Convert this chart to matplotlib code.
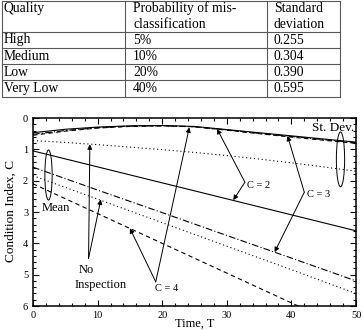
import numpy as np
import matplotlib
matplotlib.use('Agg')
from matplotlib import pyplot as plt
from matplotlib.patches import Ellipse

plt.rcParams['font.family'] = ['Liberation Serif', 'DejaVu Serif']

# table contents
header = [['Quality'], ['Probability of mis-', 'classification'], ['Standard', 'deviation']]
quality = ['High', 'Medium', 'Low', 'Very Low']
prob_mis = ['5%', '10%', '20%', '40%']
std_dev = ['0.255', '0.304', '0.390', '0.595']

# chart data
t_std = [0, 5, 10, 15, 20, 25, 30, 35, 40, 45, 50]
std_c2 = [0.47, 0.36, 0.29, 0.25, 0.24, 0.27, 0.37, 0.47, 0.57, 0.67, 0.77]
std_c3 = [0.52, 0.40, 0.31, 0.26, 0.25, 0.28, 0.38, 0.49, 0.59, 0.69, 0.79]
std_c4 = [0.55, 0.42, 0.32, 0.27, 0.25, 0.28, 0.39, 0.50, 0.61, 0.71, 0.81]
std_noinsp = [0.72, 0.78, 0.85, 0.93, 1.01, 1.10, 1.20, 1.31, 1.43, 1.56, 1.70]

t_mean = [0, 10, 20, 30, 40, 50]
mean_c2 = [1.05, 1.56, 2.07, 2.58, 3.09, 3.60]
mean_c3 = [1.57, 2.30, 3.02, 3.75, 4.47, 5.20]
mean_noinsp = [1.84, 2.59, 3.34, 4.09, 4.84, 5.60]
mean_c4 = [2.10, 3.05, 4.00, 4.95, 5.90, 6.85]

W, H = 363, 330
fig = plt.figure(figsize=(W / 100, H / 100), dpi=100)

# ---------------- table ----------------
tab = fig.add_axes([0, 1 - 100 / H, 1, 100 / H])
tab.set_xlim(0, W)
tab.set_ylim(100, 0)
tab.axis('off')
lc = '0.35'
col_x = [1.5, 125, 266.5, 340]
row_y = [0.8, 31.7, 48.3, 64.3, 80.3, 96.7]
for y in row_y:
    tab.plot([col_x[0], col_x[-1]], [y, y], color=lc, lw=0.8)
for x in col_x:
    tab.plot([x, x], [row_y[0], row_y[-1]], color=lc, lw=0.8)
fs_tab = 9.8
text_x = [4, 133, 274]
for j, lines in enumerate(header):
    for k, s in enumerate(lines):
        tab.text(text_x[j], 8.3 + k * 15.7, s, fontsize=fs_tab, va='center', ha='left')
for i in range(len(quality)):
    yc = (row_y[i + 1] + row_y[i + 2]) / 2
    for j, s in enumerate([quality[i], prob_mis[i], std_dev[i]]):
        tab.text(text_x[j], yc, s, fontsize=fs_tab, va='center', ha='left')

# ---------------- chart ----------------
ax = fig.add_axes([33 / W, 1 - 306 / H, 323 / W, 188 / H])
lw = 0.8
dot = (0, (1, 2.5))
dash = (0, (4, 3))
dashdot = (0, (6, 2, 1, 2))

ax.plot(t_std, std_c2, 'k-', lw=lw)
ax.plot(t_std, std_c3, color='k', ls=dashdot, lw=lw)
ax.plot(t_std, std_c4, color='k', ls=dash, lw=lw)
ax.plot(t_std, std_noinsp, color='k', ls=dot, lw=lw)

ax.plot(t_mean, mean_c2, 'k-', lw=lw)
ax.plot(t_mean, mean_c3, color='k', ls=dashdot, lw=lw)
ax.plot(t_mean, mean_noinsp, color='k', ls=dot, lw=lw)
ax.plot(t_mean, mean_c4, color='k', ls=dash, lw=lw)

ax.set_xlim(0, 50)
ax.set_ylim(6, 0)
ax.set_xticks(np.arange(0, 51, 10))
ax.set_xticks(np.arange(0, 51, 2), minor=True)
ax.set_yticks(np.arange(0, 7, 1))
ax.set_yticks(np.arange(0, 6.01, 0.2), minor=True)
ax.tick_params(which='both', direction='in', top=True, right=True, labelsize=7.5, width=0.8)
ax.tick_params(which='major', length=4)
ax.tick_params(which='minor', length=2)
for sp in ax.spines.values():
    sp.set_linewidth(1.1)

# arrows
def arrow(src, dst):
    ax.annotate('', xy=dst, xytext=src,
                arrowprops=dict(arrowstyle='-|>', color='k', lw=0.7,
                                mutation_scale=7, shrinkA=0, shrinkB=0))

arrow((8.6, 4.48), (8.8, 0.84))
arrow((8.6, 4.48), (10.5, 2.6))
arrow((19.0, 5.23), (15.0, 3.52))
arrow((19.0, 5.23), (24.2, 0.3))
arrow((32.8, 2.05), (28.5, 0.35))
arrow((32.8, 2.05), (31.0, 2.62))
arrow((42.0, 2.37), (39.4, 0.57))
arrow((42.0, 2.37), (37.4, 4.28))

fs_lab = 9
ax.text(3.55, 2.88, 'Mean', fontsize=fs_lab, ha='center', va='center')
ax.text(7.0, 4.86, 'No', fontsize=fs_lab, ha='left', va='center')
ax.text(6.5, 5.34, 'Inspection', fontsize=fs_lab, ha='left', va='center')
ax.text(49.7, 0.33, 'St. Dev.', fontsize=9.5, ha='right', va='center')
ax.text(18.9, 5.43, 'C = 4', fontsize=7.5, ha='left', va='center')
ax.text(33.2, 2.17, 'C = 2', fontsize=7.5, ha='left', va='center')
ax.text(42.4, 2.43, 'C = 3', fontsize=7.5, ha='left', va='center')

ax.add_patch(Ellipse((2.4, 1.82), 1.13, 1.6, fill=False, ec='k', lw=0.7))
ax.add_patch(Ellipse((47.6, 1.32), 1.28, 1.75, fill=False, ec='k', lw=0.7))

fig.text(11 / W, 1 - 211 / H, 'Condition Index, C', rotation=90, fontsize=9.5,
         ha='center', va='center')
fig.text(195 / W, 0.5 / H, 'Time, T', fontsize=9, ha='center', va='bottom')

fig.savefig('out.png', dpi=100)
